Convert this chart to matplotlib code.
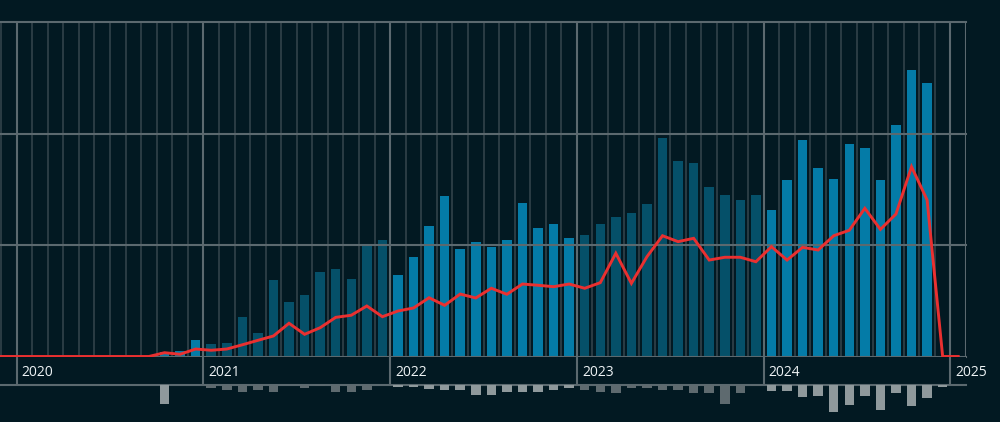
import matplotlib
matplotlib.use("Agg")
import matplotlib.pyplot as plt

# ---------------- data ----------------
months = (["2019-11", "2019-12"]
          + [f"2020-{m:02d}" for m in range(1, 13)]
          + [f"2021-{m:02d}" for m in range(1, 13)]
          + [f"2022-{m:02d}" for m in range(1, 13)]
          + [f"2023-{m:02d}" for m in range(1, 13)]
          + [f"2024-{m:02d}" for m in range(1, 13)]
          + ["2025-01"])

bar_values = ([0, 0]
              + [0, 0, 0, 0, 0, 0, 0, 0, 0, 3.8, 5.0, 14.8]
              + [11.2, 12.4, 35.4, 21.4, 68.3, 49.2, 55.5, 75.8, 78.5, 69.2, 100.9, 104.5]
              + [73.1, 89.5, 117.3, 143.9, 96.1, 102.4, 98.5, 104.8, 138.0, 115.0, 118.8, 106.3]
              + [108.7, 118.8, 125.1, 129.0, 136.5, 196.0, 175.6, 173.3, 151.7, 145.1, 140.4, 145.1]
              + [131.4, 158.0, 193.9, 169.3, 159.5, 190.9, 187.3, 158.0, 207.4, 257.0, 245.6, 0]
              + [0])

line_values = ([0, 0]
               + [0, 0, 0, 0, 0, 0, 0, 0, 0, 3.4, 2.0, 6.7]
               + [5.6, 6.7, 10.5, 14.5, 18.4, 29.8, 19.9, 25.8, 35.1, 37.0, 45.3, 35.7]
               + [40.8, 43.5, 52.7, 45.9, 56.0, 52.5, 61.2, 55.8, 65.0, 63.9, 62.6, 65.0]
               + [61.2, 66.2, 92.6, 65.6, 89.5, 108.3, 103.0, 106.0, 86.5, 89.0, 89.0, 85.0]
               + [98.5, 86.5, 97.9, 95.5, 108.3, 113.2, 132.9, 114.0, 127.8, 170.2, 140.4, 0]
               + [0])

lower_values = ([0, 0]
                + [0, 0, 0, 0, 0, 0, 0, 0, 0, 17.3, 0, 0]
                + [3.3, 4.8, 6.3, 4.8, 6.3, 0, 3.3, 1.2, 6.3, 6.3, 4.8, 0]
                + [1.8, 1.8, 3.6, 4.8, 4.8, 9.0, 9.0, 6.3, 6.3, 6.3, 4.8, 3.3]
                + [4.8, 6.3, 7.4, 3.3, 3.3, 4.8, 4.8, 7.4, 7.4, 17.3, 7.4, 0.9]
                + [6.0, 6.0, 11.4, 9.9, 24.8, 18.8, 9.9, 22.4, 7.4, 19.7, 12.3, 2.4]
                + [0.9])

year_labels = ["2020", "2021", "2022", "2023", "2024", "2025"]

# ---------------- style ----------------
BG = "#021922"
MAJOR = "#5b696f"
MINOR = "#2b3c44"
BLUE_BRIGHT = "#047ba7"
BLUE_DARK = "#055069"
GRAY_LIGHT = "#8f999c"
GRAY_DARK = "#5e6a6f"
RED = "#ea3030"
TEXT = "#eef3f5"

plt.rcParams["font.family"] = ["Open Sans", "DejaVu Sans"]

def month_pos(s):
    y, m = s.split("-")
    return (int(y) - 2020) * 12 + (int(m) - 1) + 0.5

xs = [month_pos(s) for s in months]
years = [int(s[:4]) for s in months]
XMIN, XMAX = -1.07, 61.0
year_pos = [(int(y) - 2020) * 12 for y in year_labels]

fig = plt.figure(figsize=(10, 4.22), dpi=100, facecolor=BG)

# main axes
ax = fig.add_axes([0, (422 - 356.5) / 422, 0.966, (356.5 - 22) / 422])
ax.set_facecolor(BG)
ax.set_xlim(XMIN, XMAX)
ax.set_ylim(0, 300)
for sp in ax.spines.values():
    sp.set_visible(False)
ax.set_xticks([])
ax.set_yticks([])

# minor monthly verticals
for m in range(-1, 61):
    if m % 12 != 0:
        ax.axvline(m, color=MINOR, lw=1.4, zorder=1)
# major yearly verticals
for p in year_pos:
    ax.axvline(p, color=MAJOR, lw=1.5, zorder=1.5)
ax.axvline(61, color=MAJOR, lw=1.5, zorder=1.5)

bar_colors = [BLUE_BRIGHT if y % 2 == 0 else BLUE_DARK for y in years]
ax.bar(xs, bar_values, width=0.61, color=bar_colors, zorder=2)

for v in [0, 100, 200, 300]:
    ax.axhline(v, color=MAJOR, lw=1.5, zorder=3, clip_on=False)

ax.plot(xs, line_values, color=RED, lw=2.1, zorder=4, clip_on=False,
        solid_joinstyle="miter")

# year label band
band = fig.add_axes([0, (422 - 384.5) / 422, 0.966, (384.5 - 356.5) / 422])
band.set_facecolor(BG)
band.set_xlim(XMIN, XMAX)
band.set_ylim(0, 1)
for sp in band.spines.values():
    sp.set_visible(False)
band.set_xticks([])
band.set_yticks([])
band.axhline(0, color=MAJOR, lw=1.5, clip_on=False)
for p, lab in zip(year_pos, year_labels):
    band.axvline(p, color=MAJOR, lw=1.5)
    band.text(p + 0.33, 0.5, lab, color=TEXT, fontsize=10, ha="left",
              va="center_baseline", clip_on=False)

# lower bars axes
low = fig.add_axes([0, 0, 0.966, 37.5 / 422])
low.set_facecolor(BG)
low.patch.set_alpha(0)
low.set_xlim(XMIN, XMAX)
low.set_ylim(-33.6, 0)
for sp in low.spines.values():
    sp.set_visible(False)
low.set_xticks([])
low.set_yticks([])
gray_colors = [GRAY_LIGHT if y % 2 == 0 else GRAY_DARK for y in years]
low.bar(xs, [-v for v in lower_values], width=0.61, color=gray_colors)

fig.savefig("out.png", dpi=100, facecolor=BG)
